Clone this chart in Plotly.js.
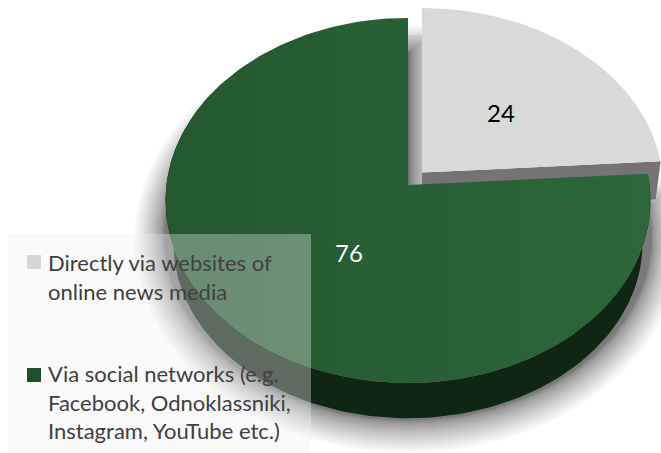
<!DOCTYPE html>
<html>
<head>
<meta charset="utf-8">
<script src="https://cdn.plot.ly/plotly-3.0.1.min.js"></script>
<style>html,body{margin:0;padding:0;background:#fff}#chart{width:661px;height:453px}</style>
</head>
<body>
<div id="chart"></div>
<script>
// Share of respondents by the way they reach online news
const categories = [
  "Directly via websites of<br>online news media",
  "Via social networks (e.g.<br>Facebook, Odnoklassniki,<br>Instagram, YouTube etc.)"
];
const values = [24, 76];
const topColors = ["#d9d9d9", "#28603a"];
const sideColors = ["#757374", "#0e2612"];
const swatchColors = ["#d6d6d6", "#1f4f2b"];
const labelColors = ["#000000", "#ffffff"];

// Tilted disc: a circle projected with mild perspective, in canvas units
const disc = {cx: 408, cy: 185, a: 241.6, b: 181.2, k: 0.085, depth: 44, wallInset: -8};
const wedgeLift = {dx: 14, dy: -12.5, sx: 0.995, sy: 0.985, depth: 38};

const total = values.reduce((s, v) => s + v, 0);
const split = values[0] / total * 2 * Math.PI;

function project(theta, grow, shape) {
  const u = Math.sin(theta), v = Math.cos(theta);
  const w = 1 + disc.k * v;
  return [
    shape.cx + (disc.a * shape.sx + grow) * u / w,
    shape.cy - (disc.b * shape.sy + grow) * v / w
  ];
}
function arc(from, to, grow, shape, dy) {
  const pts = [];
  const n = 160;
  for (let i = 0; i <= n; i++) {
    const p = project(from + (to - from) * i / n, grow, shape);
    pts.push([p[0], p[1] + dy]);
  }
  return pts;
}
function polygon(pts, color, extra) {
  const closed = pts.concat([pts[0]]);
  return Object.assign({
    type: "scatter", mode: "lines",
    x: closed.map(p => p[0]), y: closed.map(p => p[1]),
    fill: "toself", fillcolor: color,
    line: {width: 0, color: color},
    hoverinfo: "skip", showlegend: false
  }, extra || {});
}

const main = {cx: disc.cx, cy: disc.cy, sx: 1, sy: 1};
const lifted = {cx: disc.cx + wedgeLift.dx, cy: disc.cy + wedgeLift.dy, sx: wedgeLift.sx, sy: wedgeLift.sy};
const traces = [];

// Soft shadow under the large slice, denser towards the rim
const shadowSteps = 24;
const shadowDrop = 36;
for (let i = 0; i < shadowSteps; i++) {
  const t = 1 - i / shadowSteps;
  const g = 30 * t * t + 1;
  const a0 = project(split, g, main), a1 = project(2 * Math.PI, g, main);
  const outline = [[disc.cx + g, disc.cy - g + shadowDrop], [a0[0], a0[1] + shadowDrop - g]]
    .concat(arc(split, 2 * Math.PI, g, main, shadowDrop))
    .concat([[a1[0] + g, a1[1] + shadowDrop]]);
  traces.push(polygon(outline, "rgba(0,0,0,0.028)"));
}
// Shadow falling into the gap between the two slices
traces.push(polygon([
  [disc.cx, disc.cy - 150], [lifted.cx, disc.cy - 150],
  [lifted.cx, disc.cy + 2], [disc.cx, disc.cy + 2]
], "rgba(0,0,0,0.06)"));

// Lifted small slice: side wall, then top face
const c0 = project(split, 0, lifted);
traces.push(polygon([
  [lifted.cx, lifted.cy], c0,
  [c0[0] - 5, c0[1] + wedgeLift.depth], [lifted.cx, lifted.cy + wedgeLift.depth]
], sideColors[0]));
traces.push(polygon([[lifted.cx, lifted.cy]].concat(arc(0, split, 0, lifted, 0)), topColors[0]));

// Large slice: side wall tapering towards the rim, then top face
const wall = arc(split, 1.7 * Math.PI, 0, main, 0)
  .concat(arc(split, 1.7 * Math.PI, disc.wallInset, main, disc.depth).reverse());
traces.push(polygon(wall, sideColors[1]));
traces.push(polygon(
  [[disc.cx, disc.cy]].concat(arc(split, 2 * Math.PI, 0, main, 0)),
  topColors[1],
  {fillgradient: {type: "horizontal", colorscale: [[0, "#24582f"], [1, "#2b6739"]]}}
));

// Key: translucent panel, swatches and wrapped captions
const keyPanel = {x0: 8, x1: 311, y0: 234, y1: 453};
const keySwatchX = [27, 41];
const keySwatchY = [255, 368];
const keyTextX = 47;
const keyTextY = [248, 359];
const labelSpots = [[501, 112], [349, 252]];

const panelShape = {
  type: "rect", layer: "above", xref: "x", yref: "y",
  x0: keyPanel.x0, x1: keyPanel.x1, y0: keyPanel.y0, y1: keyPanel.y1,
  fillcolor: "rgba(242,242,242,0.35)", line: {width: 0}
};
const swatchShapes = categories.map((c, i) => ({
  type: "rect", layer: "above", xref: "x", yref: "y",
  x0: keySwatchX[0], x1: keySwatchX[1], y0: keySwatchY[i], y1: keySwatchY[i] + 14,
  fillcolor: swatchColors[i], line: {width: 0}
}));

const valueLabels = values.map((v, i) => ({
  x: labelSpots[i][0], y: labelSpots[i][1], xref: "x", yref: "y",
  text: String(v), showarrow: false,
  font: {family: "Lato, sans-serif", size: 24, color: labelColors[i]}
}));
const keyLabels = categories.map((c, i) => ({
  x: keyTextX, y: keyTextY[i], xref: "x", yref: "y",
  xanchor: "left", yanchor: "top", align: "left",
  text: c, showarrow: false, borderpad: 0,
  font: {family: "Lato, sans-serif", size: 22, color: "#404040"}
}));

const layout = {
  width: 661, height: 453,
  margin: {l: 0, r: 0, t: 0, b: 0},
  paper_bgcolor: "#ffffff", plot_bgcolor: "#ffffff",
  font: {family: "Lato, sans-serif"},
  xaxis: {range: [0, 661], visible: false, fixedrange: true},
  yaxis: {range: [453, 0], visible: false, fixedrange: true},
  showlegend: false,
  shapes: [panelShape].concat(swatchShapes),
  annotations: valueLabels.concat(keyLabels)
};

Plotly.newPlot("chart", traces, layout, {displayModeBar: false, staticPlot: true});
</script>
</body>
</html>
